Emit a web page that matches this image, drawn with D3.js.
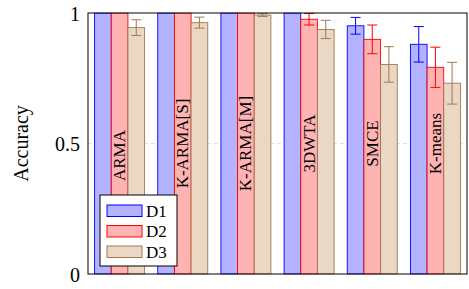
<html>
<meta charset="utf-8">
<style>
  body { margin: 0; background: #fff; }
  svg text { font-family: "Liberation Serif", "DejaVu Serif", serif; fill: #000; }
</style>
<body>
<svg id="chart" width="469" height="289"></svg>
<script src="https://cdn.jsdelivr.net/npm/d3@7/dist/d3.min.js"></script>
<script>
// data
var methods = ["ARMA", "K-ARMA[S]", "K-ARMA[M]", "3DWTA", "SMCE", "K-means"];
var series = ["D1", "D2", "D3"];
var accD1 = [1.0, 1.0, 1.0, 1.0, 0.951, 0.880];
var errD1 = [0, 0, 0, 0, 0.032, 0.068];
var accD2 = [1.0, 1.0, 1.0, 0.976, 0.899, 0.792];
var errD2 = [0, 0, 0, 0.022, 0.055, 0.077];
var accD3 = [0.944, 0.963, 0.992, 0.937, 0.803, 0.731];
var errD3 = [0.03, 0.021, 0.005, 0.035, 0.068, 0.080];
var yTicks = [0, 0.5, 1];

var fills = {D1: "rgb(179,179,255)", D2: "rgb(255,179,179)", D3: "rgb(234,216,196)"};
var strokes = {D1: "rgb(0,0,255)", D2: "rgb(255,0,0)", D3: "rgb(160,120,82)"};

var values = {D1: accD1, D2: accD2, D3: accD3};
var errs = {D1: errD1, D2: errD2, D3: errD3};

var rows = [];
methods.forEach(function(m, i){
  series.forEach(function(s){
    rows.push({method: m, series: s, value: values[s][i], err: errs[s][i]});
  });
});

var pLeft = 88, pRight = 467, pTop = 13, pBottom = 274;
var svg = d3.select("#chart");

var x0 = d3.scaleBand().domain(methods).range([pLeft, pRight]);
var groupW = 50;
var x1 = d3.scaleBand().domain(series).range([0, groupW]);
var y = d3.scaleLinear().domain([0, 1]).range([pBottom, pTop]);

svg.append("clipPath").attr("id", "plotclip")
  .append("rect").attr("x", pLeft).attr("y", pTop - 0.5)
  .attr("width", pRight - pLeft).attr("height", pBottom - pTop + 1);

// grid line at 0.5
svg.append("line")
  .attr("x1", pLeft).attr("x2", pRight)
  .attr("y1", y(0.5)).attr("y2", y(0.5))
  .attr("stroke", "#e0e0e0").attr("stroke-width", 1)
  .attr("stroke-dasharray", "4,3");

var plot = svg.append("g").attr("clip-path", "url(#plotclip)");

function bx(d){ return x0(d.method) + (x0.bandwidth() - groupW) / 2 + x1(d.series); }

plot.selectAll("rect.bar")
  .data(rows)
  .enter().append("rect")
  .attr("class", "bar")
  .attr("x", bx)
  .attr("y", function(d){ return y(d.value); })
  .attr("width", x1.bandwidth())
  .attr("height", function(d){ return y(0) - y(d.value); })
  .attr("fill", function(d){ return fills[d.series]; })
  .attr("stroke", function(d){ return strokes[d.series]; })
  .attr("stroke-width", 0.9);

// error bars
var eb = plot.selectAll("g.err")
  .data(rows.filter(function(d){ return d.err > 0; }))
  .enter().append("g")
  .attr("class", "err")
  .attr("stroke", function(d){ return strokes[d.series]; })
  .attr("stroke-width", 1);
eb.append("line")
  .attr("x1", function(d){ return bx(d) + x1.bandwidth() / 2; })
  .attr("x2", function(d){ return bx(d) + x1.bandwidth() / 2; })
  .attr("y1", function(d){ return y(d.value + d.err); })
  .attr("y2", function(d){ return y(d.value - d.err); });
eb.selectAll("line.cap")
  .data(function(d){ return [{d: d, v: d.value + d.err}, {d: d, v: d.value - d.err}]; })
  .enter().append("line")
  .attr("class", "cap")
  .attr("x1", function(c){ return bx(c.d) + x1.bandwidth() / 2 - 5; })
  .attr("x2", function(c){ return bx(c.d) + x1.bandwidth() / 2 + 5; })
  .attr("y1", function(c){ return y(c.v); })
  .attr("y2", function(c){ return y(c.v); });

// method names inside the D2 bars
svg.selectAll("text.mlabel")
  .data(methods)
  .enter().append("text")
  .attr("class", "mlabel")
  .attr("transform", function(m, i){
    var cx = x0(m) + (x0.bandwidth() - groupW) / 2 + x1("D2") + x1.bandwidth() / 2;
    var cy = y(0.5) + (i == 0 ? 12 : 0);
    return "translate(" + cx + "," + cy + ") rotate(-90)";
  })
  .attr("text-anchor", "middle")
  .attr("dominant-baseline", "central")
  .attr("font-size", "17px")
  .text(function(m){ return m; });

// frame
svg.append("rect")
  .attr("x", pLeft).attr("y", pTop)
  .attr("width", pRight - pLeft).attr("height", pBottom - pTop)
  .attr("fill", "none").attr("stroke", "#000").attr("stroke-width", 1);

// y axis
var yAxis = d3.axisLeft(y).tickValues(yTicks).tickSize(0).tickPadding(8)
  .tickFormat(function(v){ return v === 0 ? "0" : (v === 1 ? "1" : d3.format(".1f")(v)); });
var ga = svg.append("g").attr("transform", "translate(" + pLeft + ",0)").call(yAxis);
ga.select(".domain").remove();
ga.selectAll("text").attr("font-size", "20px").attr("font-family", "Liberation Serif, serif").attr("dy", "0.35em");

svg.append("text")
  .attr("transform", "translate(21," + y(0.5) + ") rotate(-90)")
  .attr("text-anchor", "middle")
  .attr("dominant-baseline", "central")
  .attr("font-size", "20px")
  .text("Accuracy");

// legend
var lg = svg.append("g");
lg.append("rect")
  .attr("x", 100).attr("y", 195).attr("width", 77).attr("height", 71)
  .attr("fill", "#fff").attr("stroke", "#000").attr("stroke-width", 1);
series.forEach(function(s, i){
  var ry = 205 + i * 20.5;
  lg.append("rect")
    .attr("x", 107).attr("y", ry).attr("width", 35).attr("height", 11.5)
    .attr("fill", fills[s]).attr("stroke", strokes[s]).attr("stroke-width", 1);
  lg.append("text")
    .attr("x", 146).attr("y", ry + 11.5)
    .attr("font-size", "17px")
    .text(s);
});
</script>
</body>
</html>
